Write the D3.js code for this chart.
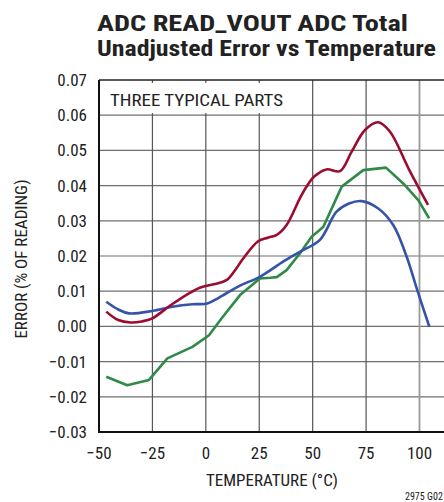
<!DOCTYPE html>
<html><head><meta charset="utf-8">
<script src="https://cdn.jsdelivr.net/npm/d3@7"></script>
<style>body{margin:0;background:#fff}svg{display:block}</style>
</head><body>
<script>
const xTicks = [-50, -25, 0, 25, 50, 75, 100];
const yTicks = [-0.03, -0.02, -0.01, 0.00, 0.01, 0.02, 0.03, 0.04, 0.05, 0.06, 0.07];

const redT = [-46.6, -41, -35.2, -30, -25, -16.5, -7.9, -2.8, 1.5, 5.3, 9.8, 13.5, 17.5, 24.5, 29, 33.2, 37.8, 44, 47.1, 51, 56.5, 62.8, 68.2, 74.5, 80.7, 86.2, 95, 104];
const redV = [0.0042, 0.0018, 0.0011, 0.0014, 0.0023, 0.006, 0.0094, 0.011, 0.0117, 0.0122, 0.0132, 0.0158, 0.0193, 0.0242, 0.0252, 0.026, 0.0288, 0.0364, 0.0397, 0.0427, 0.0446, 0.0441, 0.0496, 0.0558, 0.058, 0.0553, 0.0447, 0.0345];

const blueT = [-46.6, -41, -36, -25, -15.7, -6.3, 0.7, 6.2, 16, 25.3, 36.2, 44, 53.3, 61.2, 67, 72.9, 80.7, 87.7, 94, 98.7, 104.6];
const blueV = [0.007, 0.0048, 0.0037, 0.0044, 0.0056, 0.0063, 0.0065, 0.0082, 0.0116, 0.0141, 0.0184, 0.0212, 0.0245, 0.0326, 0.0349, 0.0356, 0.0335, 0.0288, 0.0198, 0.0108, -0.0001];

const greenT = [-46.6, -36.8, -26.6, -18, -6.3, 1.5, 7.4, 16, 25.3, 30, 33.2, 37.8, 44, 49.5, 53.3, 55, 63.6, 73.7, 84.3, 92.4, 99.4, 104.5];
const greenV = [-0.0143, -0.0167, -0.0152, -0.0091, -0.0058, -0.0025, 0.0023, 0.0089, 0.0136, 0.0138, 0.0140, 0.016, 0.0207, 0.0255, 0.0274, 0.0283, 0.0397, 0.0444, 0.0451, 0.0406, 0.0359, 0.0307];

const W = 444, H = 502;
const svg = d3.select("body").append("svg").attr("width", W).attr("height", H);

const x = d3.scaleLinear().domain([-50, 100]).range([99, 419.5]);
const y = d3.scaleLinear().domain([-0.03, 0.07]).range([432, 80]);
const xR = W;

const narrow = "'Liberation Sans Narrow','Arial Narrow','Roboto Condensed',sans-serif";

// title
svg.append("text").attr("x", 97).attr("y", 31).attr("font-family", narrow).attr("font-weight", "bold")
  .attr("font-size", 22).attr("fill", "#222").attr("textLength", 311).attr("lengthAdjust", "spacingAndGlyphs")
  .text("ADC READ_VOUT ADC Total");
svg.append("text").attr("x", 97).attr("y", 56).attr("font-family", narrow).attr("font-weight", "bold")
  .attr("font-size", 22).attr("fill", "#222").attr("textLength", 339).attr("lengthAdjust", "spacingAndGlyphs")
  .text("Unadjusted Error vs Temperature");

// grid
const g = svg.append("g");
g.selectAll(".hg").data(yTicks.slice(1, -1)).join("line")
  .attr("x1", 99).attr("x2", xR).attr("y1", d => y(d)).attr("y2", d => y(d))
  .attr("stroke", "#6e6e6e").attr("stroke-width", 1.2);
g.selectAll(".vg").data(xTicks.slice(1)).join("line")
  .attr("x1", d => x(d)).attr("x2", d => x(d)).attr("y1", 80).attr("y2", 432)
  .attr("stroke", d => d === 100 ? "#999" : "#555").attr("stroke-width", d => d === 100 ? 1.8 : 1.2);

// label box
svg.append("rect").attr("x", 100).attr("y", 83).attr("width", 192).attr("height", 30).attr("fill", "#fff");
svg.append("text").attr("x", 110).attr("y", 106).attr("font-family", narrow).attr("font-size", 17)
  .attr("fill", "#222").attr("textLength", 173).attr("lengthAdjust", "spacingAndGlyphs").text("THREE TYPICAL PARTS");

// frame
svg.append("line").attr("x1", 99).attr("x2", xR).attr("y1", 80).attr("y2", 80).attr("stroke", "#222").attr("stroke-width", 1.5);
svg.append("line").attr("x1", 99).attr("x2", xR).attr("y1", 432).attr("y2", 432).attr("stroke", "#111").attr("stroke-width", 2);
svg.append("line").attr("x1", 99).attr("x2", 99).attr("y1", 80).attr("y2", 433).attr("stroke", "#111").attr("stroke-width", 2);

// curves
const line = d3.line().x(d => x(d[0])).y(d => y(d[1]));
const series = [
  {T: greenT, V: greenV, c: "#2f8a48", curve: d3.curveLinear},
  {T: blueT, V: blueV, c: "#3553a8", curve: d3.curveCatmullRom.alpha(0.5)},
  {T: redT, V: redV, c: "#9c0c30", curve: d3.curveCatmullRom.alpha(0.5)}
];
series.forEach(s => {
  const pts = s.T.map((t, i) => [t, s.V[i]]);
  svg.append("path").attr("d", line.curve(s.curve)(pts)).attr("fill", "none")
    .attr("stroke", s.c).attr("stroke-width", 2.6).attr("stroke-linejoin", "round");
});

// tick labels
svg.selectAll(".yl").data(yTicks).join("text")
  .attr("x", 87).attr("y", d => y(d) + 6).attr("text-anchor", "end")
  .attr("font-family", narrow).attr("font-size", 17).attr("fill", "#222")
  .text(d => (d < 0 ? "\u2212" : "") + Math.abs(d).toFixed(2));
svg.selectAll(".xl").data(xTicks).join("text")
  .attr("x", d => x(d)).attr("y", 459).attr("text-anchor", "middle")
  .attr("font-family", narrow).attr("font-size", 17).attr("fill", "#222")
  .text(d => (d < 0 ? "\u2212" : "") + Math.abs(d));

// axis titles
svg.append("text").attr("x", 272).attr("y", 486).attr("text-anchor", "middle")
  .attr("font-family", narrow).attr("font-size", 17).attr("fill", "#222").text("TEMPERATURE (°C)");
svg.append("text").attr("transform", "translate(27,259) rotate(-90)").attr("text-anchor", "middle")
  .attr("font-family", narrow).attr("font-size", 17).attr("fill", "#222").text("ERROR (% OF READING)");

svg.append("text").attr("x", 405).attr("y", 500).attr("font-family", narrow).attr("font-size", 10)
  .attr("fill", "#222").text("2975 G02");
</script>
</body></html>
